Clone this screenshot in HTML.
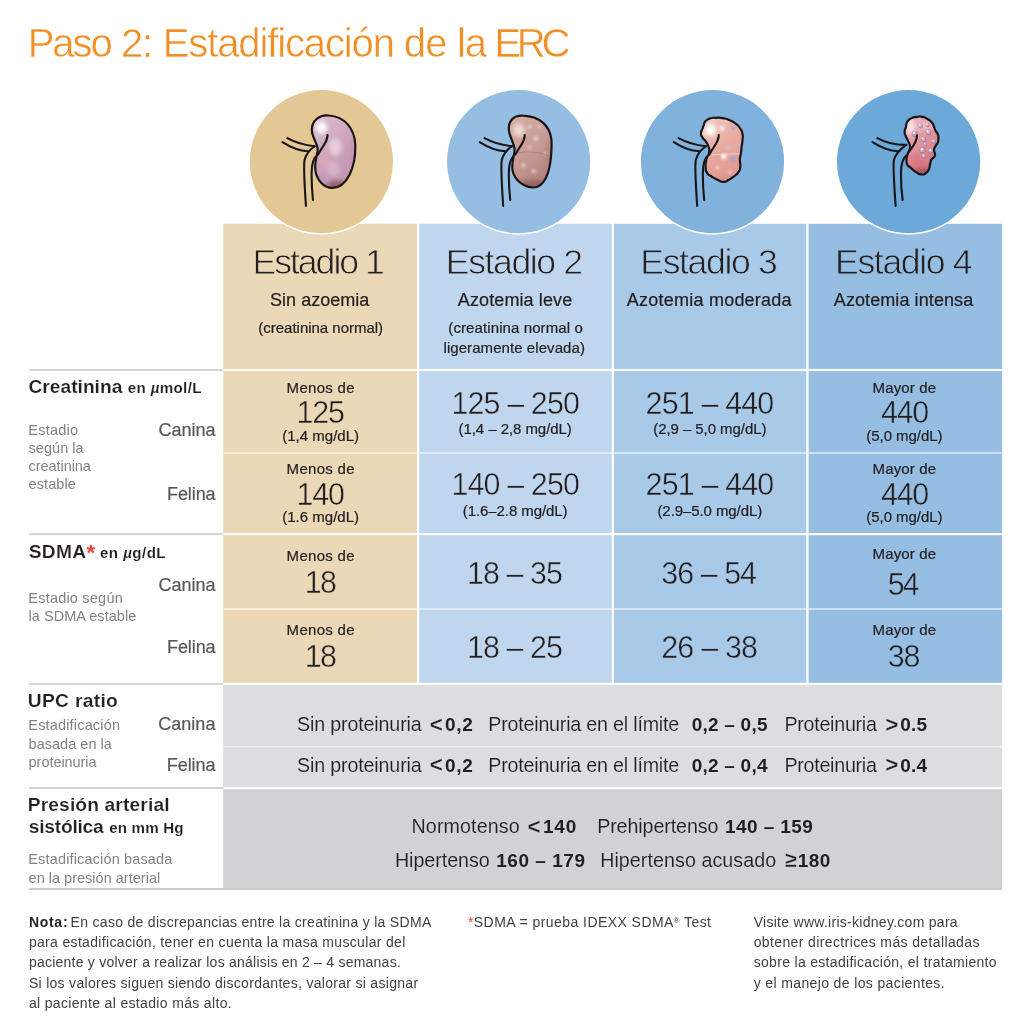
<!DOCTYPE html>
<html lang="es">
<head>
<meta charset="utf-8">
<title>Paso 2: Estadificación de la ERC</title>
<style>
html,body{margin:0;padding:0;background:#fff;}
body{width:1024px;height:1024px;position:relative;overflow:hidden;
 font-family:"Liberation Sans",Arial,Helvetica,sans-serif;color:#231f20;}
h1{margin:0;padding:0;font-size:inherit;font-weight:400;}
.t{position:absolute;white-space:nowrap;margin:0;padding:0;font-weight:400;}
.b{font-weight:700;}
.r{color:#ef4136;}
i.mu{font-style:italic;}
sup.reg{font-size:55%;vertical-align:baseline;position:relative;top:-0.55em;}
svg{position:absolute;left:0;top:0;overflow:visible;}
</style>
</head>
<body>
<!-- table backgrounds, rules, circles and kidney illustrations -->
<svg width="1024" height="1024" viewBox="0 0 1024 1024" aria-hidden="true">
<defs>
<filter id="b1" x="-50%" y="-50%" width="200%" height="200%"><feGaussianBlur stdDeviation="14"/></filter>
<filter id="b2" x="-50%" y="-50%" width="200%" height="200%"><feGaussianBlur stdDeviation="6"/></filter>
<filter id="b3" x="-50%" y="-50%" width="200%" height="200%"><feGaussianBlur stdDeviation="3"/></filter>
<linearGradient id="k1" x1="0.2" y1="0" x2="0.7" y2="1">
<stop offset="0" stop-color="#dbbdd0"/><stop offset="0.5" stop-color="#cda3bb"/><stop offset="1" stop-color="#bf94b0"/></linearGradient>
<linearGradient id="k2" x1="0.2" y1="0" x2="0.7" y2="1">
<stop offset="0" stop-color="#d3aca4"/><stop offset="0.55" stop-color="#c69a93"/><stop offset="1" stop-color="#b18079"/></linearGradient>
<linearGradient id="k3" x1="0.2" y1="0" x2="0.7" y2="1">
<stop offset="0" stop-color="#f0c8c0"/><stop offset="0.55" stop-color="#e6a69d"/><stop offset="1" stop-color="#dd978f"/></linearGradient>
<linearGradient id="k4" x1="0.2" y1="0" x2="0.7" y2="1">
<stop offset="0" stop-color="#ecb6c0"/><stop offset="0.5" stop-color="#df939c"/><stop offset="1" stop-color="#d0707a"/></linearGradient>
<clipPath id="kc1"><path d="M570,227 C505,220 458,262 460,322 C462,372 492,398 497,438 C501,470 479,505 481,562 C484,640 538,690 592,690 C682,690 742,560 738,418 C735,308 668,234 570,227 Z"/></clipPath>
<clipPath id="kc2"><path d="M556,228 C498,224 462,262 466,318 C470,365 498,398 503,440 C505,470 488,500 488,560 C490,625 545,682 620,688 C690,690 728,600 737,480 C740,440 742,400 737,370 C732,335 712,300 688,276 C655,245 605,230 556,228 Z"/></clipPath>
<clipPath id="kc3"><path d="M481,267 C493,254 487,256 509,247 C532,239 520,242 548,242 C577,241 564,239 594,244 C624,250 610,246 638,258 C667,271 655,263 678,281 C700,299 692,290 706,312 C720,333 715,321 720,346 C725,370 722,357 720,385 C718,413 718,400 714,430 C711,460 713,449 709,475 C705,501 704,482 703,509 C702,535 709,528 706,554 C703,580 708,567 695,588 C682,608 687,599 667,616 C646,632 655,626 633,638 C610,650 624,652 599,652 C575,652 586,650 560,638 C534,626 543,631 520,616 C498,601 504,614 492,593 C480,572 486,578 484,554 C482,529 483,541 487,520 C490,499 488,511 495,492 C502,473 504,484 506,464 C509,443 510,452 504,430 C497,408 500,417 487,396 C474,376 475,387 464,368 C453,349 454,359 454,340 C454,321 458,330 464,312 C470,294 467,302 473,287 C478,272 469,280 481,267 Z"/></clipPath>
<clipPath id="kc4"><path d="M527,267 C539,248 534,255 555,244 C576,234 566,239 589,236 C611,233 600,231 622,236 C645,241 636,238 656,250 C677,262 670,256 684,272 C698,289 691,284 698,301 C706,318 699,308 707,323 C714,338 714,329 721,346 C727,362 726,355 726,374 C726,392 727,385 721,402 C714,419 714,409 707,424 C699,439 699,430 698,447 C697,464 704,460 704,475 C704,490 706,481 698,492 C691,503 690,494 681,509 C673,524 679,516 673,537 C667,558 674,551 665,571 C655,590 661,585 645,596 C629,607 637,606 617,604 C596,602 606,604 583,590 C561,576 568,578 549,562 C531,546 536,560 527,542 C518,525 522,529 522,509 C522,488 522,499 527,481 C532,462 532,471 538,452 C544,434 546,445 544,424 C542,404 542,413 532,391 C523,368 523,378 516,357 C508,336 509,348 510,329 C511,310 513,321 518,301 C524,280 515,286 527,267 Z"/></clipPath>
</defs>
<rect x="223.25" y="223.8" width="193.75" height="460.2" fill="#ebd8b6"/>
<rect x="419.2" y="223.8" width="192.60" height="460.2" fill="#c0d6ee"/>
<rect x="614.0" y="223.8" width="192.30" height="460.2" fill="#a8c9e8"/>
<rect x="808.6" y="223.8" width="193.50" height="460.2" fill="#95bee2"/>
<rect x="223.2" y="684" width="778.9" height="104" fill="#dcdddf"/>
<rect x="223.2" y="788" width="778.9" height="100.5" fill="#d1d2d4"/>
<rect x="223.2" y="368.9" width="778.9" height="2.2" fill="#fff"/>
<rect x="223.2" y="533.0" width="778.9" height="2.2" fill="#fff"/>
<rect x="223.2" y="682.8" width="778.9" height="2.2" fill="#fff"/>
<rect x="223.2" y="787.0" width="778.9" height="2.2" fill="#fff"/>
<rect x="223.2" y="452.2" width="778.9" height="1.6" fill="#fff" fill-opacity="0.62"/>
<rect x="223.2" y="608.2" width="778.9" height="1.6" fill="#fff" fill-opacity="0.62"/>
<rect x="223.2" y="745.9" width="778.9" height="1.5" fill="#fff" fill-opacity="0.5"/>
<rect x="29" y="369.0" width="194.3" height="2" fill="#d1d3d5"/>
<rect x="29" y="533.1" width="194.3" height="2" fill="#d1d3d5"/>
<rect x="29" y="682.9" width="194.3" height="2" fill="#d1d3d5"/>
<rect x="29" y="787.0" width="194.3" height="2" fill="#d1d3d5"/>
<rect x="29" y="888" width="973.1" height="2" fill="#c9cbcd"/>
<circle cx="321.4" cy="161.8" r="72.9" fill="#fff"/>
<circle cx="321.4" cy="161.6" r="71.6" fill="#e3c896"/>
<circle cx="518.6" cy="161.8" r="72.9" fill="#fff"/>
<circle cx="518.6" cy="161.6" r="71.6" fill="#96bde2"/>
<circle cx="712.5" cy="161.8" r="72.9" fill="#fff"/>
<circle cx="712.5" cy="161.6" r="71.6" fill="#80b2dd"/>
<circle cx="908.6" cy="161.8" r="72.9" fill="#fff"/>
<circle cx="908.6" cy="161.6" r="71.6" fill="#6ca9d8"/>
<g transform="translate(240,80) scale(0.15625)">
<g transform="translate(0,0)" fill="none" stroke="#1a1617" stroke-width="13.5" stroke-linecap="round" stroke-linejoin="round"><path d="M303,372 C350,398 420,418 478,424"/><path d="M272,397 C320,428 380,452 436,456"/><path d="M478,424 C452,442 424,470 413,512 C405,560 415,700 422,806"/><path d="M500,478 C470,495 458,540 458,600 C458,660 462,720 467,768"/></g>
<path d="M570,227 C505,220 458,262 460,322 C462,372 492,398 497,438 C501,470 479,505 481,562 C484,640 538,690 592,690 C682,690 742,560 738,418 C735,308 668,234 570,227 Z" fill="url(#k1)"/>
<g clip-path="url(#kc1)">
<ellipse cx="522" cy="305" rx="36" ry="40" fill="#fff" fill-opacity="0.95" filter="url(#b1)"/>
<ellipse cx="610" cy="430" rx="40" ry="60" fill="#f6e8f0" fill-opacity="0.6" filter="url(#b1)"/>
<ellipse cx="600" cy="570" rx="45" ry="50" fill="#ecd3e2" fill-opacity="0.4" filter="url(#b1)"/>
<ellipse cx="545" cy="520" rx="35" ry="55" fill="#e6b0b6" fill-opacity="0.45" filter="url(#b1)"/>
<ellipse cx="510" cy="640" rx="30" ry="40" fill="#a58ab5" fill-opacity="0.4" filter="url(#b1)"/>
<ellipse cx="625" cy="672" rx="70" ry="26" fill="#7c4a50" fill-opacity="0.75" filter="url(#b1)"/>
<ellipse cx="728" cy="470" rx="18" ry="110" fill="#b78aa6" fill-opacity="0.45" filter="url(#b1)"/>
</g>
<path d="M570,227 C505,220 458,262 460,322 C462,372 492,398 497,438 C501,470 479,505 481,562 C484,640 538,690 592,690 C682,690 742,560 738,418 C735,308 668,234 570,227 Z" fill="none" stroke="#1a1617" stroke-width="14.0" stroke-linejoin="round"/>
<path d="M560,352 C562,400 520,432 500,478" fill="none" stroke="#1a1617" stroke-width="13.5" stroke-linecap="round" stroke-linejoin="round"/>
</g>
<g transform="translate(436,80) scale(0.15625)">
<g transform="translate(8,0)" fill="none" stroke="#1a1617" stroke-width="13.5" stroke-linecap="round" stroke-linejoin="round"><path d="M303,372 C350,398 420,418 478,424"/><path d="M272,397 C320,428 380,452 436,456"/><path d="M478,424 C452,442 424,470 413,512 C405,560 415,700 422,806"/><path d="M500,478 C470,495 458,540 458,600 C458,660 462,720 467,768"/></g>
<path d="M556,228 C498,224 462,262 466,318 C470,365 498,398 503,440 C505,470 488,500 488,560 C490,625 545,682 620,688 C690,690 728,600 737,480 C740,440 742,400 737,370 C732,335 712,300 688,276 C655,245 605,230 556,228 Z" fill="url(#k2)"/>
<g clip-path="url(#kc2)">
<ellipse cx="530" cy="320" rx="38" ry="42" fill="#f6e6de" fill-opacity="0.8" filter="url(#b1)"/>
<ellipse cx="620" cy="672" rx="95" ry="34" fill="#7d4e49" fill-opacity="0.6" filter="url(#b1)"/>
<ellipse cx="728" cy="470" rx="20" ry="120" fill="#a3746e" fill-opacity="0.45" filter="url(#b1)"/>
<ellipse cx="640" cy="375" rx="18" ry="18" fill="#f2dccf" fill-opacity="0.6" filter="url(#b2)"/>
<ellipse cx="600" cy="300" rx="13" ry="13" fill="#f2dccf" fill-opacity="0.6" filter="url(#b2)"/>
<ellipse cx="560" cy="545" rx="16" ry="16" fill="#f2dccf" fill-opacity="0.6" filter="url(#b2)"/>
<ellipse cx="625" cy="585" rx="15" ry="15" fill="#f2dccf" fill-opacity="0.6" filter="url(#b2)"/>
<ellipse cx="600" cy="430" rx="13" ry="13" fill="#f2dccf" fill-opacity="0.6" filter="url(#b2)"/>
<ellipse cx="700" cy="470" rx="11" ry="11" fill="#f2dccf" fill-opacity="0.6" filter="url(#b2)"/>
<ellipse cx="660" cy="300" rx="10" ry="10" fill="#f2dccf" fill-opacity="0.6" filter="url(#b2)"/>
<path d="M515,468 C600,452 680,468 732,488" fill="none" stroke="#9c6b66" stroke-width="7" stroke-opacity="0.55" filter="url(#b3)"/>
</g>
<path d="M556,228 C498,224 462,262 466,318 C470,365 498,398 503,440 C505,470 488,500 488,560 C490,625 545,682 620,688 C690,690 728,600 737,480 C740,440 742,400 737,370 C732,335 712,300 688,276 C655,245 605,230 556,228 Z" fill="none" stroke="#1a1617" stroke-width="14.0" stroke-linejoin="round"/>
<path d="M568,352 C570,400 528,432 508,478" fill="none" stroke="#1a1617" stroke-width="13.5" stroke-linecap="round" stroke-linejoin="round"/>
</g>
<g transform="translate(630,80) scale(0.15625)">
<g transform="translate(8,0)" fill="none" stroke="#1a1617" stroke-width="13.5" stroke-linecap="round" stroke-linejoin="round"><path d="M303,372 C350,398 420,418 478,424"/><path d="M272,397 C320,428 380,452 436,456"/><path d="M478,424 C452,442 424,470 413,512 C405,560 415,700 422,806"/><path d="M500,478 C470,495 458,540 458,600 C458,660 462,720 467,768"/></g>
<path d="M481,267 C493,254 487,256 509,247 C532,239 520,242 548,242 C577,241 564,239 594,244 C624,250 610,246 638,258 C667,271 655,263 678,281 C700,299 692,290 706,312 C720,333 715,321 720,346 C725,370 722,357 720,385 C718,413 718,400 714,430 C711,460 713,449 709,475 C705,501 704,482 703,509 C702,535 709,528 706,554 C703,580 708,567 695,588 C682,608 687,599 667,616 C646,632 655,626 633,638 C610,650 624,652 599,652 C575,652 586,650 560,638 C534,626 543,631 520,616 C498,601 504,614 492,593 C480,572 486,578 484,554 C482,529 483,541 487,520 C490,499 488,511 495,492 C502,473 504,484 506,464 C509,443 510,452 504,430 C497,408 500,417 487,396 C474,376 475,387 464,368 C453,349 454,359 454,340 C454,321 458,330 464,312 C470,294 467,302 473,287 C478,272 469,280 481,267 Z" fill="url(#k3)"/>
<g clip-path="url(#kc3)">
<ellipse cx="515" cy="320" rx="36" ry="40" fill="#fff" fill-opacity="0.95" filter="url(#b1)"/>
<ellipse cx="600" cy="640" rx="80" ry="18" fill="#b98580" fill-opacity="0.4" filter="url(#b1)"/>
<ellipse cx="640" cy="390" rx="60" ry="110" fill="#f0b0a8" fill-opacity="0.35" filter="url(#b1)"/>
<ellipse cx="600" cy="490" rx="18" ry="18" fill="#fff" fill-opacity="0.85" filter="url(#b2)"/>
<ellipse cx="660" cy="505" rx="20" ry="20" fill="#a9a4bb" fill-opacity="0.85" filter="url(#b2)"/>
<ellipse cx="625" cy="435" rx="15" ry="15" fill="#c7c0cf" fill-opacity="0.85" filter="url(#b2)"/>
<ellipse cx="590" cy="310" rx="16" ry="16" fill="#fbf1f0" fill-opacity="0.85" filter="url(#b2)"/>
<ellipse cx="660" cy="305" rx="13" ry="13" fill="#9aa0b8" fill-opacity="0.85" filter="url(#b2)"/>
<ellipse cx="560" cy="560" rx="12" ry="12" fill="#f6dcd8" fill-opacity="0.85" filter="url(#b2)"/>
<ellipse cx="690" cy="420" rx="10" ry="10" fill="#b9b3c6" fill-opacity="0.85" filter="url(#b2)"/>
<ellipse cx="640" cy="590" rx="11" ry="11" fill="#f3d3ce" fill-opacity="0.85" filter="url(#b2)"/>
<path d="M520,480 C600,470 660,478 715,470" fill="none" stroke="#fff" stroke-width="5" stroke-opacity="0.5" filter="url(#b3)"/>
</g>
<path d="M481,267 C493,254 487,256 509,247 C532,239 520,242 548,242 C577,241 564,239 594,244 C624,250 610,246 638,258 C667,271 655,263 678,281 C700,299 692,290 706,312 C720,333 715,321 720,346 C725,370 722,357 720,385 C718,413 718,400 714,430 C711,460 713,449 709,475 C705,501 704,482 703,509 C702,535 709,528 706,554 C703,580 708,567 695,588 C682,608 687,599 667,616 C646,632 655,626 633,638 C610,650 624,652 599,652 C575,652 586,650 560,638 C534,626 543,631 520,616 C498,601 504,614 492,593 C480,572 486,578 484,554 C482,529 483,541 487,520 C490,499 488,511 495,492 C502,473 504,484 506,464 C509,443 510,452 504,430 C497,408 500,417 487,396 C474,376 475,387 464,368 C453,349 454,359 454,340 C454,321 458,330 464,312 C470,294 467,302 473,287 C478,272 469,280 481,267 Z" fill="none" stroke="#1a1617" stroke-width="14.0" stroke-linejoin="round"/>
<path d="M568,352 C570,400 528,432 508,478" fill="none" stroke="#1a1617" stroke-width="13.5" stroke-linecap="round" stroke-linejoin="round"/>
</g>
<g transform="translate(825,80) scale(0.15625)">
<g fill="none" stroke="#1a1617" stroke-width="13.5" stroke-linecap="round" stroke-linejoin="round"><path d="M335,372 C382,398 452,416 520,415"/><path d="M304,397 C352,428 412,452 468,456"/><path d="M520,415 C485,440 452,470 441,512 C434,560 445,700 452,806"/><path d="M528,478 C500,495 486,540 486,600 C486,660 490,720 497,768"/></g>
<path d="M527,267 C539,248 534,255 555,244 C576,234 566,239 589,236 C611,233 600,231 622,236 C645,241 636,238 656,250 C677,262 670,256 684,272 C698,289 691,284 698,301 C706,318 699,308 707,323 C714,338 714,329 721,346 C727,362 726,355 726,374 C726,392 727,385 721,402 C714,419 714,409 707,424 C699,439 699,430 698,447 C697,464 704,460 704,475 C704,490 706,481 698,492 C691,503 690,494 681,509 C673,524 679,516 673,537 C667,558 674,551 665,571 C655,590 661,585 645,596 C629,607 637,606 617,604 C596,602 606,604 583,590 C561,576 568,578 549,562 C531,546 536,560 527,542 C518,525 522,529 522,509 C522,488 522,499 527,481 C532,462 532,471 538,452 C544,434 546,445 544,424 C542,404 542,413 532,391 C523,368 523,378 516,357 C508,336 509,348 510,329 C511,310 513,321 518,301 C524,280 515,286 527,267 Z" fill="url(#k4)"/>
<g clip-path="url(#kc4)">
<ellipse cx="548" cy="300" rx="26" ry="45" fill="#fdf0f2" fill-opacity="0.9" filter="url(#b1)"/>
<ellipse cx="620" cy="585" rx="70" ry="22" fill="#8a3a48" fill-opacity="0.6" filter="url(#b1)"/>
<ellipse cx="585" cy="520" rx="45" ry="45" fill="#d9606c" fill-opacity="0.4" filter="url(#b1)"/>
<ellipse cx="640" cy="300" rx="50" ry="30" fill="#f0c4d0" fill-opacity="0.6" filter="url(#b1)"/>
<ellipse cx="574" cy="345" rx="19" ry="19" fill="#9c7797" fill-opacity="0.85" filter="url(#b3)"/>
<ellipse cx="572" cy="342" rx="15.200000000000001" ry="15.200000000000001" fill="#cfaec4" fill-opacity="0.9" filter="url(#b3)"/>
<ellipse cx="569" cy="338" rx="6.460000000000001" ry="6.460000000000001" fill="#fff" fill-opacity="1" filter="url(#b3)"/>
<ellipse cx="662" cy="335" rx="19" ry="19" fill="#9c7797" fill-opacity="0.85" filter="url(#b3)"/>
<ellipse cx="660" cy="332" rx="15.200000000000001" ry="15.200000000000001" fill="#cfaec4" fill-opacity="0.9" filter="url(#b3)"/>
<ellipse cx="657" cy="328" rx="6.460000000000001" ry="6.460000000000001" fill="#fff" fill-opacity="1" filter="url(#b3)"/>
<ellipse cx="630" cy="381" rx="17" ry="17" fill="#9c7797" fill-opacity="0.85" filter="url(#b3)"/>
<ellipse cx="628" cy="378" rx="13.600000000000001" ry="13.600000000000001" fill="#cfaec4" fill-opacity="0.9" filter="url(#b3)"/>
<ellipse cx="625" cy="374" rx="5.78" ry="5.78" fill="#fff" fill-opacity="1" filter="url(#b3)"/>
<ellipse cx="624" cy="450" rx="19" ry="19" fill="#9c7797" fill-opacity="0.85" filter="url(#b3)"/>
<ellipse cx="622" cy="447" rx="15.200000000000001" ry="15.200000000000001" fill="#cfaec4" fill-opacity="0.9" filter="url(#b3)"/>
<ellipse cx="619" cy="443" rx="6.460000000000001" ry="6.460000000000001" fill="#fff" fill-opacity="1" filter="url(#b3)"/>
<ellipse cx="678" cy="455" rx="17" ry="17" fill="#9c7797" fill-opacity="0.85" filter="url(#b3)"/>
<ellipse cx="676" cy="452" rx="13.600000000000001" ry="13.600000000000001" fill="#cfaec4" fill-opacity="0.9" filter="url(#b3)"/>
<ellipse cx="673" cy="448" rx="5.78" ry="5.78" fill="#fff" fill-opacity="1" filter="url(#b3)"/>
<ellipse cx="634" cy="489" rx="14" ry="14" fill="#9c7797" fill-opacity="0.85" filter="url(#b3)"/>
<ellipse cx="632" cy="486" rx="11.200000000000001" ry="11.200000000000001" fill="#cfaec4" fill-opacity="0.9" filter="url(#b3)"/>
<ellipse cx="629" cy="482" rx="4.760000000000001" ry="4.760000000000001" fill="#fff" fill-opacity="1" filter="url(#b3)"/>
<ellipse cx="612" cy="295" rx="15" ry="15" fill="#9c7797" fill-opacity="0.85" filter="url(#b3)"/>
<ellipse cx="610" cy="292" rx="12.0" ry="12.0" fill="#cfaec4" fill-opacity="0.9" filter="url(#b3)"/>
<ellipse cx="607" cy="288" rx="5.1000000000000005" ry="5.1000000000000005" fill="#fff" fill-opacity="1" filter="url(#b3)"/>
<ellipse cx="696" cy="395" rx="14" ry="14" fill="#9c7797" fill-opacity="0.85" filter="url(#b3)"/>
<ellipse cx="694" cy="392" rx="11.200000000000001" ry="11.200000000000001" fill="#cfaec4" fill-opacity="0.9" filter="url(#b3)"/>
<ellipse cx="691" cy="388" rx="4.760000000000001" ry="4.760000000000001" fill="#fff" fill-opacity="1" filter="url(#b3)"/>
<ellipse cx="657" cy="289" rx="12" ry="12" fill="#9c7797" fill-opacity="0.85" filter="url(#b3)"/>
<ellipse cx="655" cy="286" rx="9.600000000000001" ry="9.600000000000001" fill="#cfaec4" fill-opacity="0.9" filter="url(#b3)"/>
<ellipse cx="652" cy="282" rx="4.08" ry="4.08" fill="#fff" fill-opacity="1" filter="url(#b3)"/>
<ellipse cx="642" cy="413" rx="12" ry="12" fill="#9c7797" fill-opacity="0.85" filter="url(#b3)"/>
<ellipse cx="640" cy="410" rx="9.600000000000001" ry="9.600000000000001" fill="#cfaec4" fill-opacity="0.9" filter="url(#b3)"/>
<ellipse cx="637" cy="406" rx="4.08" ry="4.08" fill="#fff" fill-opacity="1" filter="url(#b3)"/>
</g>
<path d="M527,267 C539,248 534,255 555,244 C576,234 566,239 589,236 C611,233 600,231 622,236 C645,241 636,238 656,250 C677,262 670,256 684,272 C698,289 691,284 698,301 C706,318 699,308 707,323 C714,338 714,329 721,346 C727,362 726,355 726,374 C726,392 727,385 721,402 C714,419 714,409 707,424 C699,439 699,430 698,447 C697,464 704,460 704,475 C704,490 706,481 698,492 C691,503 690,494 681,509 C673,524 679,516 673,537 C667,558 674,551 665,571 C655,590 661,585 645,596 C629,607 637,606 617,604 C596,602 606,604 583,590 C561,576 568,578 549,562 C531,546 536,560 527,542 C518,525 522,529 522,509 C522,488 522,499 527,481 C532,462 532,471 538,452 C544,434 546,445 544,424 C542,404 542,413 532,391 C523,368 523,378 516,357 C508,336 509,348 510,329 C511,310 513,321 518,301 C524,280 515,286 527,267 Z" fill="none" stroke="#1a1617" stroke-width="14.0" stroke-linejoin="round"/>
<path d="M589,354 C590,398 562,425 538,458" fill="none" stroke="#1a1617" stroke-width="13.5" stroke-linecap="round" stroke-linejoin="round"/>
</g>
</svg>
<h1>
<span class="t" style="left:27.67px;top:18.7px;font-size:40.03px;line-height:48px;color:#f18f26;letter-spacing:-2.0px;-webkit-text-stroke:0.45px #fff">Paso</span>
<span class="t" style="left:120.88px;top:18.7px;font-size:40.03px;line-height:48px;color:#f18f26;letter-spacing:-1.2px;-webkit-text-stroke:0.45px #fff">2:</span>
<span class="t" style="left:162.68px;top:18.7px;font-size:40.03px;line-height:48px;color:#f18f26;letter-spacing:-1.12px;-webkit-text-stroke:0.45px #fff">Estadificación</span>
<span class="t" style="left:403.77px;top:18.7px;font-size:40.03px;line-height:48px;color:#f18f26;letter-spacing:-0.7px;-webkit-text-stroke:0.45px #fff">de</span>
<span class="t" style="left:456.88px;top:18.7px;font-size:40.03px;line-height:48px;color:#f18f26;letter-spacing:-0.94px;-webkit-text-stroke:0.45px #fff">la</span>
<span class="t" style="left:494.47px;top:18.7px;font-size:40.03px;line-height:48px;color:#f18f26;letter-spacing:-4.32px;-webkit-text-stroke:0.45px #fff">ERC</span>
</h1>
<div class="t" style="left:252.45px;top:241.0px;font-size:35.62px;line-height:43px;letter-spacing:-2.02px;-webkit-text-stroke:0.8px #ebd8b6">Estadio 1</div>
<div class="t" style="left:445.81px;top:241.0px;font-size:35.62px;line-height:43px;letter-spacing:-1.41px;-webkit-text-stroke:0.8px #c0d6ee">Estadio 2</div>
<div class="t" style="left:640.29px;top:241.0px;font-size:35.62px;line-height:43px;letter-spacing:-1.38px;-webkit-text-stroke:0.8px #a8c9e8">Estadio 3</div>
<div class="t" style="left:835.09px;top:241.0px;font-size:35.62px;line-height:43px;letter-spacing:-1.38px;-webkit-text-stroke:0.8px #95bee2">Estadio 4</div>
<div class="t" style="left:270.03px;top:289.0px;font-size:18.0px;line-height:22px;letter-spacing:0.03px;-webkit-text-stroke:0.22px #231f20">Sin azoemia</div>
<div class="t" style="left:457.76px;top:289.0px;font-size:18.0px;line-height:22px;letter-spacing:0.12px;-webkit-text-stroke:0.22px #231f20">Azotemia leve</div>
<div class="t" style="left:626.82px;top:289.0px;font-size:18.0px;line-height:22px;letter-spacing:0.23px;-webkit-text-stroke:0.22px #231f20">Azotemia moderada</div>
<div class="t" style="left:833.79px;top:289.0px;font-size:18.0px;line-height:22px;letter-spacing:0.09px;-webkit-text-stroke:0.22px #231f20">Azotemia intensa</div>
<div class="t" style="left:258.35px;top:319.4px;font-size:15.0px;line-height:18px;letter-spacing:-0.02px;-webkit-text-stroke:0.22px #231f20">(creatinina normal)</div>
<div class="t" style="left:448.34px;top:319.4px;font-size:15.0px;line-height:18px;letter-spacing:0.1px;-webkit-text-stroke:0.22px #231f20">(creatinina normal o</div>
<div class="t" style="left:443.49px;top:338.9px;font-size:15.0px;line-height:18px;letter-spacing:0.07px;-webkit-text-stroke:0.22px #231f20">ligeramente elevada)</div>
<div class="t" style="left:286.62px;top:378.8px;font-size:15.0px;line-height:18px;letter-spacing:0.29px;-webkit-text-stroke:0.22px #231f20">Menos de</div>
<div class="t" style="left:296.47px;top:394.3px;font-size:30.43px;line-height:37px;letter-spacing:-1.19px;-webkit-text-stroke:0.45px #ebd8b6">125</div>
<div class="t" style="left:282.25px;top:426.7px;font-size:15.0px;line-height:18px;letter-spacing:0.01px;-webkit-text-stroke:0.22px #231f20">(1,4 mg/dL)</div>
<div class="t" style="left:451.47px;top:384.9px;font-size:30.43px;line-height:37px;letter-spacing:-0.87px;-webkit-text-stroke:0.45px #c0d6ee">125 – 250</div>
<div class="t" style="left:458.56px;top:420.4px;font-size:15.0px;line-height:18px;letter-spacing:-0.06px;-webkit-text-stroke:0.22px #231f20">(1,4 – 2,8 mg/dL)</div>
<div class="t" style="left:645.56px;top:384.9px;font-size:30.43px;line-height:37px;letter-spacing:-0.83px;-webkit-text-stroke:0.45px #a8c9e8">251 – 440</div>
<div class="t" style="left:653.21px;top:420.4px;font-size:15.0px;line-height:18px;letter-spacing:-0.06px;-webkit-text-stroke:0.22px #231f20">(2,9 – 5,0 mg/dL)</div>
<div class="t" style="left:872.50px;top:378.8px;font-size:15.0px;line-height:18px;letter-spacing:0.16px;-webkit-text-stroke:0.22px #231f20">Mayor de</div>
<div class="t" style="left:880.97px;top:394.3px;font-size:30.43px;line-height:37px;letter-spacing:-1.29px;-webkit-text-stroke:0.45px #95bee2">440</div>
<div class="t" style="left:866.30px;top:426.7px;font-size:15.0px;line-height:18px;letter-spacing:-0.04px;-webkit-text-stroke:0.22px #231f20">(5,0 mg/dL)</div>
<div class="t" style="left:286.62px;top:460.1px;font-size:15.0px;line-height:18px;letter-spacing:0.29px;-webkit-text-stroke:0.22px #231f20">Menos de</div>
<div class="t" style="left:296.47px;top:475.6px;font-size:30.43px;line-height:37px;letter-spacing:-1.19px;-webkit-text-stroke:0.45px #ebd8b6">140</div>
<div class="t" style="left:282.25px;top:508.0px;font-size:15.0px;line-height:18px;letter-spacing:0.01px;-webkit-text-stroke:0.22px #231f20">(1.6 mg/dL)</div>
<div class="t" style="left:451.47px;top:466.2px;font-size:30.43px;line-height:37px;letter-spacing:-0.87px;-webkit-text-stroke:0.45px #c0d6ee">140 – 250</div>
<div class="t" style="left:462.81px;top:501.7px;font-size:15.0px;line-height:18px;letter-spacing:-0.08px;-webkit-text-stroke:0.22px #231f20">(1.6–2.8 mg/dL)</div>
<div class="t" style="left:645.56px;top:466.2px;font-size:30.43px;line-height:37px;letter-spacing:-0.83px;-webkit-text-stroke:0.45px #a8c9e8">251 – 440</div>
<div class="t" style="left:657.46px;top:501.7px;font-size:15.0px;line-height:18px;letter-spacing:-0.08px;-webkit-text-stroke:0.22px #231f20">(2.9–5.0 mg/dL)</div>
<div class="t" style="left:872.50px;top:460.1px;font-size:15.0px;line-height:18px;letter-spacing:0.16px;-webkit-text-stroke:0.22px #231f20">Mayor de</div>
<div class="t" style="left:880.97px;top:475.6px;font-size:30.43px;line-height:37px;letter-spacing:-1.29px;-webkit-text-stroke:0.45px #95bee2">440</div>
<div class="t" style="left:866.30px;top:508.0px;font-size:15.0px;line-height:18px;letter-spacing:-0.04px;-webkit-text-stroke:0.22px #231f20">(5,0 mg/dL)</div>
<div class="t" style="left:286.62px;top:546.7px;font-size:15.0px;line-height:18px;letter-spacing:0.29px;-webkit-text-stroke:0.22px #231f20">Menos de</div>
<div class="t" style="left:304.78px;top:563.9px;font-size:30.43px;line-height:37px;letter-spacing:-1.57px;-webkit-text-stroke:0.45px #ebd8b6">18</div>
<div class="t" style="left:467.07px;top:555.3px;font-size:30.43px;line-height:37px;letter-spacing:-0.92px;-webkit-text-stroke:0.45px #c0d6ee">18 – 35</div>
<div class="t" style="left:661.18px;top:555.3px;font-size:30.43px;line-height:37px;letter-spacing:-0.94px;-webkit-text-stroke:0.45px #a8c9e8">36 – 54</div>
<div class="t" style="left:872.50px;top:544.7px;font-size:15.0px;line-height:18px;letter-spacing:0.16px;-webkit-text-stroke:0.22px #231f20">Mayor de</div>
<div class="t" style="left:887.78px;top:565.8px;font-size:30.43px;line-height:37px;letter-spacing:-2.17px;-webkit-text-stroke:0.45px #95bee2">54</div>
<div class="t" style="left:286.62px;top:620.7px;font-size:15.0px;line-height:18px;letter-spacing:0.29px;-webkit-text-stroke:0.22px #231f20">Menos de</div>
<div class="t" style="left:304.78px;top:637.9px;font-size:30.43px;line-height:37px;letter-spacing:-1.57px;-webkit-text-stroke:0.45px #ebd8b6">18</div>
<div class="t" style="left:467.07px;top:629.3px;font-size:30.43px;line-height:37px;letter-spacing:-0.92px;-webkit-text-stroke:0.45px #c0d6ee">18 – 25</div>
<div class="t" style="left:661.17px;top:629.3px;font-size:30.43px;line-height:37px;letter-spacing:-0.77px;-webkit-text-stroke:0.45px #a8c9e8">26 – 38</div>
<div class="t" style="left:872.50px;top:620.9px;font-size:15.0px;line-height:18px;letter-spacing:0.16px;-webkit-text-stroke:0.22px #231f20">Mayor de</div>
<div class="t" style="left:887.78px;top:637.7px;font-size:30.43px;line-height:37px;letter-spacing:-1.17px;-webkit-text-stroke:0.45px #95bee2">38</div>
<div class="t" style="left:28.53px;top:375.0px;font-size:19.21px;line-height:23px;font-weight:700;-webkit-text-stroke:0.15px #fff">Creatinina</div>
<div class="t" style="left:127.74px;top:379.0px;font-size:15.14px;line-height:18px;font-weight:700;letter-spacing:0.35px;-webkit-text-stroke:0.1px #fff">en <i class="mu">µ</i>mol/L</div>
<div class="t" style="left:28.30px;top:421.6px;font-size:14.5px;line-height:17px;color:#808285;letter-spacing:0.23px">Estadio</div>
<div class="t" style="left:28.60px;top:439.8px;font-size:14.5px;line-height:17px;color:#808285;letter-spacing:0.03px">según la</div>
<div class="t" style="left:28.60px;top:457.9px;font-size:14.5px;line-height:17px;color:#808285;letter-spacing:-0.07px">creatinina</div>
<div class="t" style="left:28.60px;top:476.0px;font-size:14.5px;line-height:17px;color:#808285;letter-spacing:0.08px">estable</div>
<div class="t" style="left:158.41px;top:418.6px;font-size:18.0px;line-height:22px;color:#58595b;letter-spacing:0.03px;-webkit-text-stroke:0.22px #58595b">Canina</div>
<div class="t" style="left:167.03px;top:483.0px;font-size:18.0px;line-height:22px;color:#58595b;letter-spacing:-0.09px;-webkit-text-stroke:0.22px #58595b">Felina</div>
<div class="t" style="left:28.73px;top:539.7px;font-size:19.21px;line-height:23px;font-weight:700;letter-spacing:0.3px;-webkit-text-stroke:0.15px #fff">SDMA</div>
<div class="t" style="left:86.60px;top:539.7px;font-size:22.0px;line-height:26px;font-weight:700;color:#ef4136;letter-spacing:-0.6px">*</div>
<div class="t" style="left:100.04px;top:543.7px;font-size:15.14px;line-height:18px;font-weight:700;letter-spacing:0.43px;-webkit-text-stroke:0.1px #fff">en <i class="mu">µ</i>g/dL</div>
<div class="t" style="left:28.30px;top:589.8px;font-size:14.5px;line-height:17px;color:#808285;letter-spacing:0.21px">Estadio según</div>
<div class="t" style="left:28.60px;top:607.9px;font-size:14.5px;line-height:17px;color:#808285;letter-spacing:0.03px">la SDMA estable</div>
<div class="t" style="left:158.41px;top:574.0px;font-size:18.0px;line-height:22px;color:#58595b;letter-spacing:0.03px;-webkit-text-stroke:0.22px #58595b">Canina</div>
<div class="t" style="left:167.03px;top:636.0px;font-size:18.0px;line-height:22px;color:#58595b;letter-spacing:-0.09px;-webkit-text-stroke:0.22px #58595b">Felina</div>
<div class="t" style="left:27.73px;top:688.9px;font-size:19.21px;line-height:23px;font-weight:700;letter-spacing:0.33px;-webkit-text-stroke:0.15px #fff">UPC ratio</div>
<div class="t" style="left:28.30px;top:717.4px;font-size:14.5px;line-height:17px;color:#808285;letter-spacing:0.17px">Estadificación</div>
<div class="t" style="left:28.60px;top:735.8px;font-size:14.5px;line-height:17px;color:#808285;letter-spacing:0.02px">basada en la</div>
<div class="t" style="left:28.60px;top:754.1px;font-size:14.5px;line-height:17px;color:#808285;letter-spacing:-0.05px">proteinuria</div>
<div class="t" style="left:158.21px;top:713.0px;font-size:18.0px;line-height:22px;color:#58595b;letter-spacing:0.03px;-webkit-text-stroke:0.22px #58595b">Canina</div>
<div class="t" style="left:166.83px;top:753.7px;font-size:18.0px;line-height:22px;color:#58595b;letter-spacing:-0.09px;-webkit-text-stroke:0.22px #58595b">Felina</div>
<div class="t" style="left:27.73px;top:792.6px;font-size:19.21px;line-height:23px;font-weight:700;letter-spacing:0.14px;-webkit-text-stroke:0.15px #fff">Presión arterial</div>
<div class="t" style="left:28.73px;top:815.3px;font-size:19.21px;line-height:23px;font-weight:700;letter-spacing:-0.22px;-webkit-text-stroke:0.15px #fff">sistólica</div>
<div class="t" style="left:109.15px;top:819.3px;font-size:15.14px;line-height:18px;font-weight:700;letter-spacing:0.19px;-webkit-text-stroke:0.1px #fff">en mm Hg</div>
<div class="t" style="left:28.30px;top:850.7px;font-size:14.5px;line-height:17px;color:#808285;letter-spacing:0.15px">Estadificación basada</div>
<div class="t" style="left:28.60px;top:869.6px;font-size:14.5px;line-height:17px;color:#808285;letter-spacing:0.01px">en la presión arterial</div>
<div class="t" style="left:296.94px;top:711.7px;font-size:19.67px;line-height:24px;letter-spacing:-0.14px;-webkit-text-stroke:0.12px #dcdddf">Sin proteinuria</div>
<div class="t" style="left:429.75px;top:710.5px;font-size:22.42px;line-height:27px;font-weight:700;letter-spacing:-0.3px;-webkit-text-stroke:0.3px #dcdddf">&lt;</div>
<div class="t" style="left:445.10px;top:712.7px;font-size:19.0px;line-height:23px;font-weight:700;letter-spacing:0.68px">0,2</div>
<div class="t" style="left:488.24px;top:711.7px;font-size:19.67px;line-height:24px;letter-spacing:-0.2px;-webkit-text-stroke:0.12px #dcdddf">Proteinuria en el límite</div>
<div class="t" style="left:691.70px;top:712.7px;font-size:19.0px;line-height:23px;font-weight:700;letter-spacing:0.23px">0,2 – 0,5</div>
<div class="t" style="left:784.44px;top:711.7px;font-size:19.67px;line-height:24px;letter-spacing:-0.26px;-webkit-text-stroke:0.12px #dcdddf">Proteinuria</div>
<div class="t" style="left:885.35px;top:710.5px;font-size:22.42px;line-height:27px;font-weight:700;letter-spacing:-0.3px;-webkit-text-stroke:0.3px #dcdddf">&gt;</div>
<div class="t" style="left:900.20px;top:712.7px;font-size:19.0px;line-height:23px;font-weight:700;letter-spacing:0.28px">0.5</div>
<div class="t" style="left:296.94px;top:752.5px;font-size:19.67px;line-height:24px;letter-spacing:-0.14px;-webkit-text-stroke:0.12px #dcdddf">Sin proteinuria</div>
<div class="t" style="left:429.75px;top:751.3px;font-size:22.42px;line-height:27px;font-weight:700;letter-spacing:-0.3px;-webkit-text-stroke:0.3px #dcdddf">&lt;</div>
<div class="t" style="left:445.10px;top:753.5px;font-size:19.0px;line-height:23px;font-weight:700;letter-spacing:0.68px">0,2</div>
<div class="t" style="left:488.24px;top:752.5px;font-size:19.67px;line-height:24px;letter-spacing:-0.2px;-webkit-text-stroke:0.12px #dcdddf">Proteinuria en el límite</div>
<div class="t" style="left:691.70px;top:753.5px;font-size:19.0px;line-height:23px;font-weight:700;letter-spacing:0.23px">0,2 – 0,4</div>
<div class="t" style="left:784.44px;top:752.5px;font-size:19.67px;line-height:24px;letter-spacing:-0.26px;-webkit-text-stroke:0.12px #dcdddf">Proteinuria</div>
<div class="t" style="left:885.35px;top:751.3px;font-size:22.42px;line-height:27px;font-weight:700;letter-spacing:-0.3px;-webkit-text-stroke:0.3px #dcdddf">&gt;</div>
<div class="t" style="left:900.20px;top:753.5px;font-size:19.0px;line-height:23px;font-weight:700;letter-spacing:0.28px">0.4</div>
<div class="t" style="left:411.54px;top:814.0px;font-size:19.67px;line-height:24px;letter-spacing:0.12px;-webkit-text-stroke:0.12px #d1d2d4">Normotenso</div>
<div class="t" style="left:527.45px;top:812.8px;font-size:22.42px;line-height:27px;font-weight:700;letter-spacing:-0.3px;-webkit-text-stroke:0.3px #d1d2d4">&lt;</div>
<div class="t" style="left:543.00px;top:815.0px;font-size:19.0px;line-height:23px;font-weight:700;letter-spacing:0.78px">140</div>
<div class="t" style="left:597.14px;top:814.0px;font-size:19.67px;line-height:24px;letter-spacing:-0.09px;-webkit-text-stroke:0.12px #d1d2d4">Prehipertenso</div>
<div class="t" style="left:724.90px;top:815.0px;font-size:19.0px;line-height:23px;font-weight:700;letter-spacing:0.44px">140 – 159</div>
<div class="t" style="left:394.94px;top:847.9px;font-size:19.67px;line-height:24px;letter-spacing:-0.03px;-webkit-text-stroke:0.12px #d1d2d4">Hipertenso</div>
<div class="t" style="left:496.20px;top:848.9px;font-size:19.0px;line-height:23px;font-weight:700;letter-spacing:0.53px">160 – 179</div>
<div class="t" style="left:600.14px;top:847.9px;font-size:19.67px;line-height:24px;letter-spacing:0.07px;-webkit-text-stroke:0.12px #d1d2d4">Hipertenso acusado</div>
<div class="t" style="left:785.15px;top:847.4px;font-size:21.42px;line-height:26px;font-weight:700;letter-spacing:0.5px;-webkit-text-stroke:0.3px #d1d2d4">≥</div>
<div class="t" style="left:797.70px;top:848.9px;font-size:19.0px;line-height:23px;font-weight:700;letter-spacing:0.48px">180</div>
<div class="t" style="left:28.90px;top:914.1px;font-size:14.0px;line-height:17px;font-weight:700;letter-spacing:0.72px">Nota:</div>
<div class="t" style="left:70.60px;top:914.1px;font-size:14.0px;line-height:17px;color:#414042;letter-spacing:0.3px">En caso de discrepancias entre la creatinina y la SDMA</div>
<div class="t" style="left:28.90px;top:934.2px;font-size:14.0px;line-height:17px;color:#414042;letter-spacing:0.33px">para estadificación, tener en cuenta la masa muscular del</div>
<div class="t" style="left:28.90px;top:954.3px;font-size:14.0px;line-height:17px;color:#414042;letter-spacing:0.24px">paciente y volver a realizar los análisis en 2 – 4 semanas.</div>
<div class="t" style="left:28.90px;top:974.9px;font-size:14.0px;line-height:17px;color:#414042;letter-spacing:0.3px">Si los valores siguen siendo discordantes, valorar si asignar</div>
<div class="t" style="left:28.90px;top:994.9px;font-size:14.0px;line-height:17px;color:#414042;letter-spacing:0.34px">al paciente al estadio más alto.</div>
<div class="t" style="left:467.91px;top:914.1px;font-size:14.0px;line-height:17px;color:#414042;letter-spacing:0.44px"><span class="r">*</span>SDMA = prueba IDEXX SDMA<sup class="reg">®</sup> Test</div>
<div class="t" style="left:753.70px;top:914.1px;font-size:14.0px;line-height:17px;color:#414042;letter-spacing:0.28px">Visite www.iris-kidney.com para</div>
<div class="t" style="left:753.70px;top:934.2px;font-size:14.0px;line-height:17px;color:#414042;letter-spacing:0.38px">obtener directrices más detalladas</div>
<div class="t" style="left:753.70px;top:954.3px;font-size:14.0px;line-height:17px;color:#414042;letter-spacing:0.31px">sobre la estadificación, el tratamiento</div>
<div class="t" style="left:753.70px;top:974.9px;font-size:14.0px;line-height:17px;color:#414042;letter-spacing:0.37px">y el manejo de los pacientes.</div>
</body>
</html>
